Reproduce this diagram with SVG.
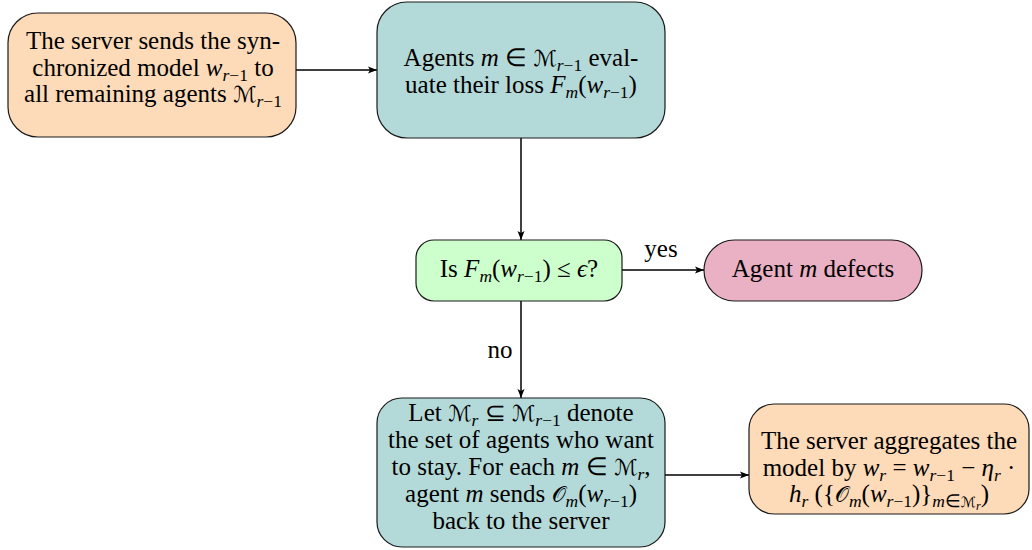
<svg xmlns="http://www.w3.org/2000/svg" width="1032" height="550" viewBox="0 0 1032 550">
<defs>
<style>
.box{stroke:#1a1a1a;stroke-width:1.2}
.orange{fill:#FDDAB8}
.teal{fill:#B3DAD9}
.green{fill:#CCFFCC}
.pink{fill:#EAB0C4}
.conn{stroke:#000;stroke-width:1.5;fill:none}
</style>
<marker id="ah" markerWidth="10" markerHeight="8" refX="9" refY="4" orient="auto" markerUnits="userSpaceOnUse">
<path d="M0,0.5 L9,4 L0,7.5 L2,4 z" fill="#000"/>
</marker>
</defs>
<rect width="1032" height="550" fill="#fff"/>

<g id="connectors">
<line class="conn" x1="296" y1="70" x2="377" y2="70" marker-end="url(#ah)"/>
<line class="conn" x1="521" y1="138" x2="521" y2="240" marker-end="url(#ah)"/>
<line class="conn" x1="622" y1="270" x2="704" y2="270" marker-end="url(#ah)"/>
<line class="conn" x1="521" y1="301" x2="521" y2="398" marker-end="url(#ah)"/>
<line class="conn" x1="665" y1="475" x2="749" y2="475" marker-end="url(#ah)"/>
<text x="661" y="257" font-size="25" font-family="Liberation Serif" text-anchor="middle">yes</text>
<text x="500" y="358" font-size="25" font-family="Liberation Serif" text-anchor="middle">no</text>
</g>

<g id="n1">
<rect class="box orange" x="8" y="13" width="288" height="124" rx="30"/>
<text x="153" y="49" font-size="25" font-family="Liberation Serif" text-anchor="middle">The server sends the syn-</text>
<text x="153" y="76" font-size="25" font-family="Liberation Serif" text-anchor="middle">chronized model <tspan font-style="italic">w</tspan><tspan font-size="17.5" font-style="italic" dy="5">r</tspan><tspan font-size="17.5">−1</tspan><tspan dy="-5"> to</tspan></text>
<text x="153" y="102" font-size="25" font-family="Liberation Serif" text-anchor="middle">all remaining agents <tspan font-size="22" font-family="DejaVu Sans">ℳ</tspan><tspan font-size="17.5" font-style="italic" dy="5">r</tspan><tspan font-size="17.5">−1</tspan></text>
</g>

<g id="n2">
<rect class="box teal" x="377" y="2" width="288" height="136" rx="30"/>
<text x="521" y="66" font-size="25" font-family="Liberation Serif" text-anchor="middle">Agents <tspan font-style="italic">m</tspan> ∈ <tspan font-size="22" font-family="DejaVu Sans">ℳ</tspan><tspan font-size="17.5" font-style="italic" dy="5">r</tspan><tspan font-size="17.5">−1</tspan><tspan dy="-5"> eval-</tspan></text>
<text x="521" y="93" font-size="25" font-family="Liberation Serif" text-anchor="middle">uate their loss <tspan font-style="italic">F</tspan><tspan font-size="17.5" font-style="italic" dy="5">m</tspan><tspan dy="-5">(</tspan><tspan font-style="italic">w</tspan><tspan font-size="17.5" font-style="italic" dy="5">r</tspan><tspan font-size="17.5">−1</tspan><tspan dy="-5">)</tspan></text>
</g>

<g id="n3">
<rect class="box green" x="416" y="240" width="206" height="61" rx="18"/>
<text x="519" y="277" font-size="25" font-family="Liberation Serif" text-anchor="middle">Is <tspan font-style="italic">F</tspan><tspan font-size="17.5" font-style="italic" dy="5">m</tspan><tspan dy="-5">(</tspan><tspan font-style="italic">w</tspan><tspan font-size="17.5" font-style="italic" dy="5">r</tspan><tspan font-size="17.5">−1</tspan><tspan dy="-5">) ≤ </tspan><tspan font-style="italic">ϵ</tspan>?</text>
</g>

<g id="n4">
<rect class="box pink" x="704" y="240" width="218" height="61" rx="30.5"/>
<text x="813" y="277" font-size="25" font-family="Liberation Serif" text-anchor="middle">Agent <tspan font-style="italic">m</tspan> defects</text>
</g>

<g id="n5">
<rect class="box teal" x="377" y="398" width="288" height="149" rx="25"/>
<text x="521" y="421" font-size="25" font-family="Liberation Serif" text-anchor="middle">Let <tspan font-size="22" font-family="DejaVu Sans">ℳ</tspan><tspan font-size="17.5" font-style="italic" dy="5">r</tspan><tspan dy="-5"> ⊆ </tspan><tspan font-size="22" font-family="DejaVu Sans">ℳ</tspan><tspan font-size="17.5" font-style="italic" dy="5">r</tspan><tspan font-size="17.5">−1</tspan><tspan dy="-5"> denote</tspan></text>
<text x="521" y="448" font-size="25" font-family="Liberation Serif" text-anchor="middle">the set of agents who want</text>
<text x="521" y="475" font-size="25" font-family="Liberation Serif" text-anchor="middle">to stay. For each <tspan font-style="italic">m</tspan> ∈ <tspan font-size="22" font-family="DejaVu Sans">ℳ</tspan><tspan font-size="17.5" font-style="italic" dy="5">r</tspan><tspan dy="-5">,</tspan></text>
<text x="521" y="502" font-size="25" font-family="Liberation Serif" text-anchor="middle">agent <tspan font-style="italic">m</tspan> sends <tspan font-size="22" font-family="DejaVu Sans">𝒪</tspan><tspan font-size="17.5" font-style="italic" dy="5">m</tspan><tspan dy="-5">(</tspan><tspan font-style="italic">w</tspan><tspan font-size="17.5" font-style="italic" dy="5">r</tspan><tspan font-size="17.5">−1</tspan><tspan dy="-5">)</tspan></text>
<text x="521" y="529" font-size="25" font-family="Liberation Serif" text-anchor="middle">back to the server</text>
</g>

<g id="n6">
<rect class="box orange" x="749" y="404" width="280" height="110" rx="25"/>
<text x="889" y="449" font-size="25" font-family="Liberation Serif" text-anchor="middle">The server aggregates the</text>
<text x="889" y="476" font-size="25" font-family="Liberation Serif" text-anchor="middle">model by <tspan font-style="italic">w</tspan><tspan font-size="17.5" font-style="italic" dy="5">r</tspan><tspan dy="-5"> = </tspan><tspan font-style="italic">w</tspan><tspan font-size="17.5" font-style="italic" dy="5">r</tspan><tspan font-size="17.5">−1</tspan><tspan dy="-5"> − </tspan><tspan font-style="italic">η</tspan><tspan font-size="17.5" font-style="italic" dy="5">r</tspan><tspan dy="-5"> ·</tspan></text>
<text x="889" y="502" font-size="25" font-family="Liberation Serif" text-anchor="middle"><tspan font-style="italic">h</tspan><tspan font-size="17.5" font-style="italic" dy="5">r</tspan><tspan dy="-5"> ({</tspan><tspan font-size="22" font-family="DejaVu Sans">𝒪</tspan><tspan font-size="17.5" font-style="italic" dy="5">m</tspan><tspan dy="-5">(</tspan><tspan font-style="italic">w</tspan><tspan font-size="17.5" font-style="italic" dy="5">r</tspan><tspan font-size="17.5">−1</tspan><tspan dy="-5">)}</tspan><tspan font-size="17.5" font-style="italic" dy="5">m</tspan><tspan font-size="17.5">∈</tspan><tspan font-family="DejaVu Sans" font-size="14">ℳ</tspan><tspan font-style="italic" font-size="12" dy="3">r</tspan><tspan dy="-8">)</tspan></text>
</g>
</svg>
